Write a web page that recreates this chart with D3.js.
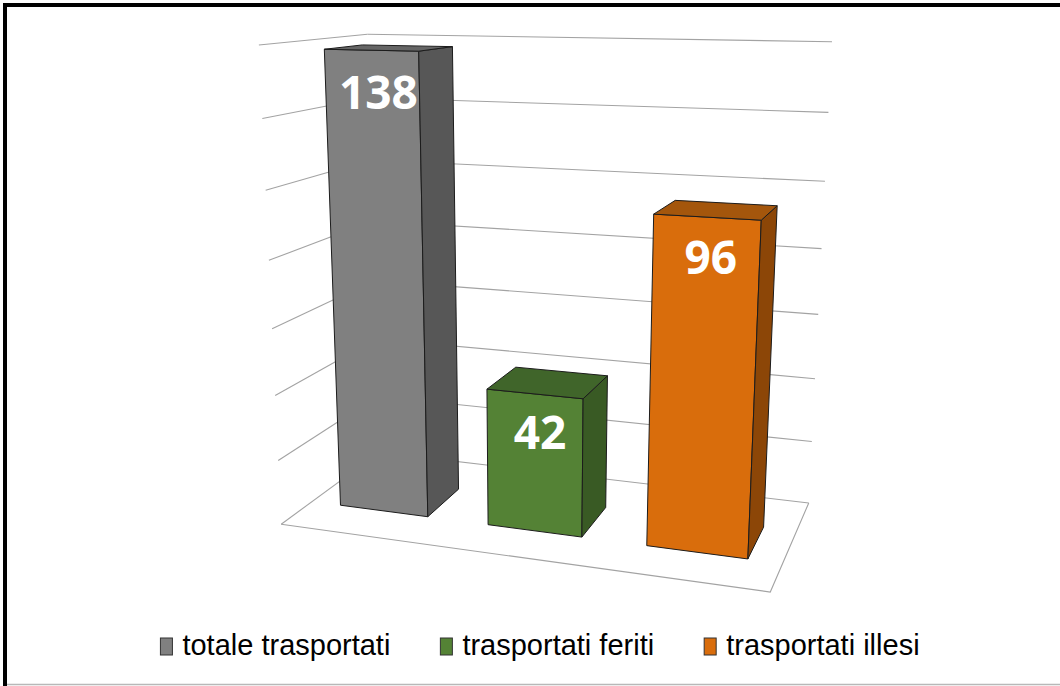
<!DOCTYPE html>
<html>
<head>
<meta charset="utf-8">
<script src="https://cdn.jsdelivr.net/npm/d3@7"></script>
<style>
  body { margin: 0; background: #fff; }
  svg { display: block; }
</style>
</head>
<body>
<div id="chart"></div>
<script>
// data
var categories = ['totale trasportati', 'trasportati feriti', 'trasportati illesi'];
var values = [138, 42, 96];
var yTicks = [0, 20, 40, 60, 80, 100, 120, 140];

// colours per bar: front, side, top
var frontColors = ['#808080', '#548235', '#d96d0c'];
var sideColors = ['#575757', '#395a24', '#8c4607'];
var topColors = ['#656565', '#40652a', '#a4560c'];

var width = 1060, height = 686;

// 3d box size (world units) and camera
var boxW = 90.8, boxH = 87.2, boxD = 42.7;
var cam = [124.7, 100, 261];
var yaw = 19 * Math.PI / 180, pitch = 14.2 * Math.PI / 180;
var focal = 1425, u0 = 534, v0 = 328;

var sy = Math.sin(yaw), cy = Math.cos(yaw), sp = Math.sin(pitch), cp = Math.cos(pitch);
var R = [cy, 0, -sy];
var U = [-sp * sy, cp, -sp * cy];
var F = [-cp * sy, -sp, -cp * cy];

function dot(a, b) { return a[0] * b[0] + a[1] * b[1] + a[2] * b[2]; }

// world point -> screen point
function project(p) {
  var d = [p[0] - cam[0], p[1] - cam[1], p[2] - cam[2]];
  var xc = dot(d, R), yc = dot(d, U), zc = dot(d, F);
  return [u0 + focal * xc / zc, v0 - focal * yc / zc];
}

var x = d3.scaleBand().domain(categories).range([0, boxW]).paddingInner(0.4).paddingOuter(0.2);
var y = d3.scaleLinear().domain([0, 140]).range([0, boxH]);

var svg = d3.select('#chart').append('svg')
  .attr('width', width)
  .attr('height', height);

svg.append('rect').attr('width', width).attr('height', height).attr('fill', '#fff');

// frame
svg.append('line').attr('x1', 5).attr('y1', 3).attr('x2', 5).attr('y2', height).attr('stroke', '#000').attr('stroke-width', 4);
svg.append('line').attr('x1', 3).attr('y1', 5).attr('x2', width).attr('y2', 5).attr('stroke', '#000').attr('stroke-width', 4);
svg.append('line').attr('x1', 7).attr('y1', height - 1.5).attr('x2', width).attr('y2', height - 1.5).attr('stroke', '#b8b8b8').attr('stroke-width', 1.5);

var line = d3.line();
var grid = svg.append('g').attr('stroke', '#a3a3a3').attr('stroke-width', 1.1).attr('fill', 'none');

// back wall + side wall gridlines
yTicks.forEach(function(t) {
  var h = y(t);
  grid.append('path').attr('d', line([project([0, h, 0]), project([boxW, h, 0])]));
  grid.append('path').attr('d', line([project([0, h, boxD]), project([0, h, 0])]));
});

// floor outline
grid.append('path').attr('d', line([
  project([0, 0, boxD]), project([boxW, 0, boxD]), project([boxW, 0, 0])
]));

// bars
var barDepth = x.bandwidth() * 0.85;
var zFront = boxD / 2 + x.bandwidth() / 2;
var zBack = zFront - barDepth;

var bars = svg.append('g').selectAll('g')
  .data(categories)
  .enter()
  .append('g');

bars.each(function(c, i) {
  var g = d3.select(this);
  var x0 = x(c), x1 = x(c) + x.bandwidth();
  var h = y(values[i]);
  var front = [[x0, 0, zFront], [x1, 0, zFront], [x1, h, zFront], [x0, h, zFront]].map(project);
  var side = [[x1, 0, zFront], [x1, 0, zBack], [x1, h, zBack], [x1, h, zFront]].map(project);
  var top = [[x0, h, zFront], [x1, h, zFront], [x1, h, zBack], [x0, h, zBack]].map(project);
  [[front, frontColors[i]], [side, sideColors[i]], [top, topColors[i]]].forEach(function(f) {
    g.append('path')
      .attr('d', line(f[0]) + 'Z')
      .attr('fill', f[1])
      .attr('stroke', '#1c1c1c')
      .attr('stroke-width', 1)
      .attr('stroke-linejoin', 'round');
  });
  var lp = project([x0 + x.bandwidth() / 2, h, zFront - barDepth / 5]);
  g.append('text')
    .attr('x', lp[0])
    .attr('y', lp[1] + 60)
    .attr('text-anchor', 'middle')
    .style('font-family', '"Open Sans", sans-serif')
    .style('font-weight', 'bold')
    .style('font-size', '46px')
    .style('fill', '#fff')
    .text(values[i]);
});

// legend
var legend = svg.append('g');
var items = legend.selectAll('g').data(categories).enter().append('g');
items.append('rect')
  .attr('width', 12).attr('height', 17)
  .attr('y', -17)
  .attr('fill', function(d, i) { return frontColors[i]; })
  .attr('stroke', '#333').attr('stroke-width', 1);
items.append('text')
  .attr('x', 22)
  .style('font-family', '"Liberation Sans", Arial, sans-serif')
  .style('font-size', '29px')
  .style('fill', '#000')
  .text(function(d) { return d; });

var pos = 0, gap = 50;
items.each(function() {
  var w = 22 + d3.select(this).select('text').node().getComputedTextLength();
  d3.select(this).attr('transform', 'translate(' + pos + ',0)');
  pos += w + gap;
});
var total = pos - gap;
legend.attr('transform', 'translate(' + (540 - total / 2) + ',655)');
</script>
</body>
</html>
